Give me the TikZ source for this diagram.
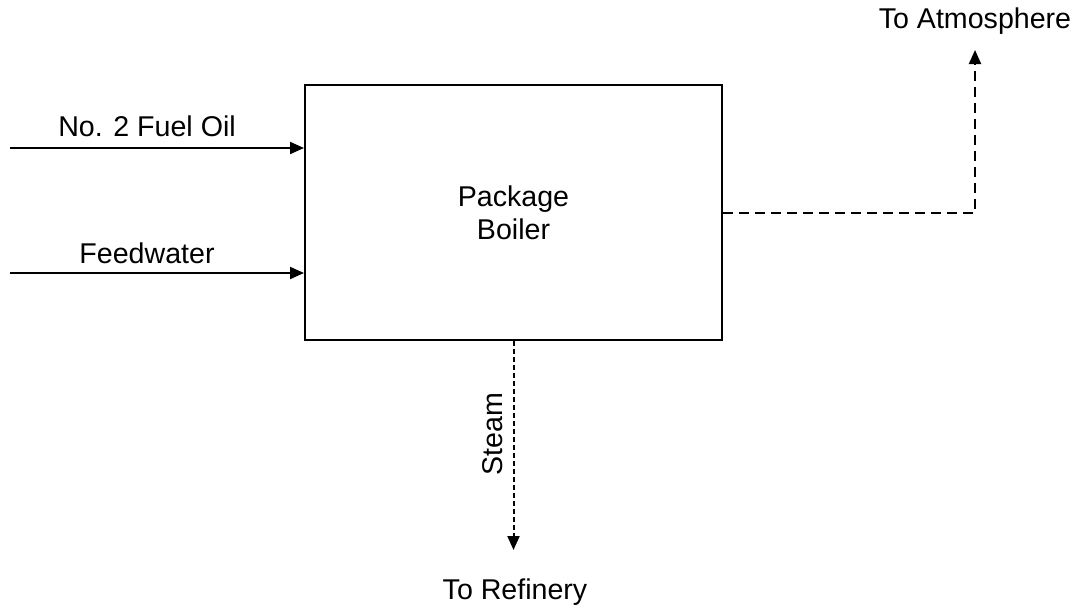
\documentclass[tikz,border=0pt]{standalone}
\usepackage{fontspec}
\setmainfont{Liberation Sans}
\usepackage{tikz}
\usetikzlibrary{arrows.meta,positioning}

\begin{document}
\begin{tikzpicture}[
    x=0.5pt, y=-0.5pt,
    every node/.style={font=\fontsize{14.3}{16.5}\selectfont},
    block/.style={draw, line width=1pt, minimum width=208.5pt, minimum height=127.5pt, align=center},
    arrow/.style={->, line width=1pt, >={Triangle[length=7pt,width=6pt]}},
    vent/.style={arrow, dash pattern=on 5pt off 3pt},
    steamline/.style={arrow, dash pattern=on 2.5pt off 1.5pt}
]
    \useasboundingbox (0,0) rectangle (1076,612);

    % Boiler
    \node[block] (boiler) at (513.5,212.5) {Package\\Boiler};

    % Inputs
    \coordinate (fuelin) at (10,148);
    \coordinate (waterin) at (10,273);
    \node (fuellabel) at (147,126) {No. 2 Fuel Oil};
    \node (waterlabel) at (147,253) {Feedwater};

    % Outputs
    \coordinate (ventbend) at (975,212.5);
    \coordinate (venttop) at (975,50);
    \node (atmos) at (975,21) {To Atmosphere};
    \coordinate (steamend) at (513.5,550);
    \node[rotate=90] (steamlabel) at (493,434) {Steam};
    \node (refinery) at (515,592) {To Refinery};

    % Arrows
    \draw[arrow] (fuelin) -- (boiler.west |- fuelin);
    \draw[arrow] (waterin) -- (boiler.west |- waterin);
    \draw[vent] (boiler.east) -- (ventbend) -- (venttop);
    \draw[steamline] (boiler.south) -- (steamend);

\end{tikzpicture}
\end{document}
